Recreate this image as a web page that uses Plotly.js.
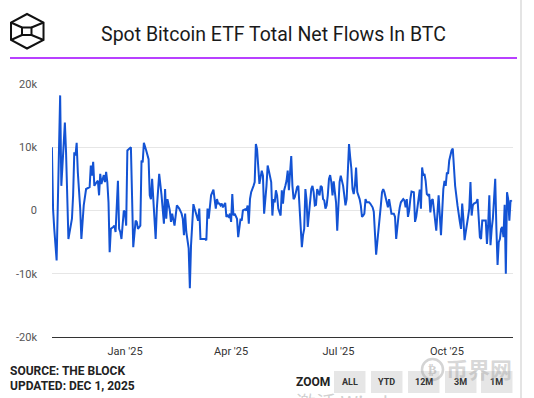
<!DOCTYPE html>
<html>
<head>
<meta charset="utf-8">
<script src="https://cdn.plot.ly/plotly-3.0.1.min.js"></script>
<style>
html,body{margin:0;padding:0;background:#fff;}
#chart{width:534px;height:398px;}
</style>
</head>
<body>
<div id="chart"></div>
<script>
// ---- data (BTC net flows) ----
const dates = [
"2024-10-31","2024-11-01","2024-11-02","2024-11-04","2024-11-07","2024-11-08","2024-11-11","2024-11-12","2024-11-14","2024-11-17",
"2024-11-18","2024-11-19","2024-11-20","2024-11-21","2024-11-22","2024-11-24","2024-11-25","2024-11-27","2024-11-29","2024-12-01",
"2024-12-02","2024-12-03","2024-12-04","2024-12-05","2024-12-06","2024-12-08","2024-12-09","2024-12-10","2024-12-11","2024-12-12",
"2024-12-14","2024-12-15","2024-12-16","2024-12-17","2024-12-18","2024-12-19","2024-12-20","2024-12-22","2024-12-23","2024-12-24",
"2024-12-26","2024-12-27","2024-12-28","2024-12-29","2024-12-31","2025-01-01","2025-01-02","2025-01-03","2025-01-04","2025-01-06",
"2025-01-08","2025-01-10","2025-01-11","2025-01-12","2025-01-14","2025-01-15","2025-01-16","2025-01-17","2025-01-19","2025-01-21",
"2025-01-22","2025-01-23","2025-01-24","2025-01-25","2025-01-27","2025-01-28","2025-01-29","2025-01-30","2025-02-01","2025-02-02",
"2025-02-03","2025-02-04","2025-02-05","2025-02-06","2025-02-08","2025-02-09","2025-02-10","2025-02-12","2025-02-13","2025-02-14",
"2025-02-16","2025-02-18","2025-02-19","2025-02-20","2025-02-21","2025-02-22","2025-02-24","2025-02-25","2025-02-26","2025-02-28",
"2025-03-01","2025-03-03","2025-03-04","2025-03-05","2025-03-06","2025-03-08","2025-03-10","2025-03-11","2025-03-12","2025-03-13",
"2025-03-14","2025-03-15","2025-03-17","2025-03-18","2025-03-19","2025-03-20","2025-03-21","2025-03-22","2025-03-23","2025-03-24",
"2025-03-25","2025-03-27","2025-03-28","2025-03-29","2025-03-30","2025-03-31","2025-04-01","2025-04-02","2025-04-03","2025-04-04",
"2025-04-05","2025-04-06","2025-04-07","2025-04-09","2025-04-10","2025-04-11","2025-04-13","2025-04-14","2025-04-15","2025-04-16",
"2025-04-17","2025-04-18","2025-04-20","2025-04-21","2025-04-22","2025-04-23","2025-04-25","2025-04-26","2025-04-27","2025-04-28",
"2025-04-29","2025-05-01","2025-05-02","2025-05-03","2025-05-04","2025-05-05","2025-05-06","2025-05-07","2025-05-08","2025-05-09",
"2025-05-10","2025-05-11","2025-05-13","2025-05-14","2025-05-15","2025-05-16","2025-05-17","2025-05-18","2025-05-19","2025-05-20",
"2025-05-21","2025-05-22","2025-05-23","2025-05-24","2025-05-25","2025-05-26","2025-05-27","2025-05-28","2025-05-29","2025-05-30",
"2025-05-31","2025-06-01","2025-06-02","2025-06-03","2025-06-04","2025-06-05","2025-06-06","2025-06-07","2025-06-08","2025-06-09",
"2025-06-10","2025-06-11","2025-06-12","2025-06-13","2025-06-14","2025-06-15","2025-06-16","2025-06-17","2025-06-18","2025-06-19",
"2025-06-20","2025-06-21","2025-06-22","2025-06-23","2025-06-24","2025-06-25","2025-06-26","2025-06-27","2025-06-28","2025-06-29",
"2025-06-30","2025-07-01","2025-07-02","2025-07-03","2025-07-05","2025-07-06","2025-07-07","2025-07-08","2025-07-09","2025-07-10",
"2025-07-11","2025-07-12","2025-07-13","2025-07-14","2025-07-15","2025-07-16","2025-07-17","2025-07-19","2025-07-20","2025-07-21",
"2025-07-22","2025-07-23","2025-07-24","2025-07-25","2025-07-26","2025-07-27","2025-07-28","2025-07-30","2025-07-31","2025-08-01",
"2025-08-02","2025-08-03","2025-08-04","2025-08-05","2025-08-06","2025-08-07","2025-08-08","2025-08-09","2025-08-10","2025-08-11",
"2025-08-12","2025-08-13","2025-08-14","2025-08-15","2025-08-17","2025-08-18","2025-08-19","2025-08-20","2025-08-21","2025-08-22",
"2025-08-23","2025-08-25","2025-08-26","2025-08-27","2025-08-28","2025-08-29","2025-08-30","2025-08-31","2025-09-01","2025-09-03",
"2025-09-04","2025-09-05","2025-09-06","2025-09-07","2025-09-08","2025-09-09","2025-09-10","2025-09-11","2025-09-12","2025-09-13",
"2025-09-14","2025-09-15","2025-09-16","2025-09-17","2025-09-18","2025-09-19","2025-09-20","2025-09-21","2025-09-22","2025-09-24",
"2025-09-25","2025-09-26","2025-09-27","2025-09-28","2025-09-29","2025-09-30","2025-10-01","2025-10-02","2025-10-03","2025-10-04",
"2025-10-05","2025-10-06","2025-10-07","2025-10-08","2025-10-10","2025-10-11","2025-10-12","2025-10-13","2025-10-14","2025-10-15",
"2025-10-16","2025-10-17","2025-10-18","2025-10-19","2025-10-20","2025-10-21","2025-10-22","2025-10-23","2025-10-24","2025-10-26",
"2025-10-27","2025-10-29","2025-10-30","2025-10-31","2025-11-01","2025-11-03","2025-11-04","2025-11-05","2025-11-06","2025-11-07",
"2025-11-08","2025-11-09","2025-11-10","2025-11-11","2025-11-12","2025-11-13","2025-11-14","2025-11-15","2025-11-16","2025-11-17",
"2025-11-18","2025-11-19","2025-11-20","2025-11-21","2025-11-22","2025-11-23","2025-11-24","2025-11-25"
];
const netFlowsBTC = [
10000,200,-2900,-7900,18200,3900,13900,9200,-4500,-1300,
2400,9200,8700,10700,6000,300,-4500,800,3400,3700,
3700,7100,5500,7700,3900,4500,4700,2400,5800,4200,
5600,4500,6100,4500,1300,-6600,-2900,-2600,-2400,-3400,
4700,-2900,-3400,-4500,0,-300,-2400,9500,9700,10000,
-5800,-1600,-1800,-2900,-2400,7900,7600,10700,9500,8100,
2400,1800,5000,1800,-4500,300,3700,5800,2400,300,
-2100,3400,-1300,1800,0,-1800,-500,-2400,-800,800,
300,-500,-1300,-3900,-500,-3400,-6000,-12300,-5500,1000,
300,-1000,-1600,300,-4500,-4500,-4500,-4700,300,-1300,
800,2400,3300,1800,300,1800,1100,1100,800,1100,
500,1200,-1000,-800,-1000,-500,-1800,2600,-800,-500,
-800,-1300,-4200,-1300,-1600,0,200,0,800,-2100,
1800,2900,3900,4500,10500,9700,4200,5000,6300,5500,
-500,3900,7100,6300,5500,4500,-800,1800,1300,3200,
2400,300,-800,3200,1100,3200,3900,4700,6300,3200,
6000,8600,3900,1800,2100,2900,3700,3900,800,-3900,
-5800,-3900,-2900,3400,1600,-2600,-300,2100,3400,3900,
2900,800,900,3400,2900,2400,3900,3700,1800,1600,
300,800,2400,5000,5600,4500,2400,4600,2900,1300,
-3200,2400,4500,5500,3900,2400,800,1800,6000,10500,
8400,6600,3400,2600,3900,6800,2900,1800,800,-1000,
-800,-500,1800,1300,1300,1300,1100,500,-200,-3900,
-7000,-5000,-3400,-1800,800,2900,3400,2900,2100,1100,
500,1800,300,-500,-500,-1000,-4500,-1800,-800,500,
1300,1800,1600,500,1800,-1000,0,1800,3000,2900,
-1800,-1000,800,2100,3300,300,6800,5500,5800,4700,
2600,2400,2600,-300,1600,1800,-300,-1800,-3200,2400,
-800,-3900,-300,3400,4700,3900,6000,5800,7900,8900,
9500,9800,6800,3900,800,-800,-1800,-2900,1100,-1300,
-4700,-3400,-1800,-1000,300,4500,-800,800,1100,1300,
1800,-4200,-4500,-1600,-1600,-1600,-5300,-2400,2400,-5500,
-2900,-1300,1800,5000,-2900,-8600,-5000,-4500,-2900,-2600,
-4200,900,-10000,2900,1800,-1600,1600,1400
];
const yTickVals = [-20000,-10000,0,10000,20000];
const yTickText = ["-20k","-10k","0","10k","20k"];
const xTickVals = ["2025-01-01","2025-04-01","2025-07-01","2025-10-01"];
const xTickText = ["Jan '25","Apr '25","Jul '25","Oct '25"];
const zoomButtons = ["ALL","YTD","12M","3M","1M"];

// ---- layout helpers (pixel -> paper) ----
const W=534,H=398,L=52,R=513,T=84,B=337;
const px = x => (x-L)/(R-L);
const py = y => (B-y)/(B-T);
function pathFrom(points){ return points.map((p,i)=>(i?'L':'M')+px(p[0]).toFixed(4)+','+py(p[1]).toFixed(4)).join(' '); }

const shapes = [];
// purple divider
shapes.push({type:'line',xref:'paper',yref:'paper',x0:px(10),x1:px(517),y0:py(58),y1:py(58),line:{color:'#a100ff',width:1.5}});
// right edge bar
shapes.push({type:'line',xref:'paper',yref:'paper',x0:px(521),x1:px(521),y0:py(0),y1:py(398),line:{color:'#e4e4e4',width:2}});
// logo (cube outline)
const hex=[[27,14],[43.5,22.5],[43.5,40],[27,48.5],[11,40],[11,22.5],[27,14]];
shapes.push({type:'path',xref:'paper',yref:'paper',path:pathFrom(hex)+' Z',line:{color:'#111',width:2}});
shapes.push({type:'path',xref:'paper',yref:'paper',path:pathFrom([[22,27.5],[31.5,27.5],[31.5,35],[22,35],[22,27.5]])+' Z',line:{color:'#111',width:2}});
[[[11,22.5],[22,27.5]],[[43.5,22.5],[31.5,27.5]],[[11,40],[22,35]],[[43.5,40],[31.5,35]]].forEach(s=>{
  shapes.push({type:'path',xref:'paper',yref:'paper',path:pathFrom(s),line:{color:'#111',width:2}});
});
// zoom buttons
const btnX=[334,371,408,445,481];
const annotations=[];
zoomButtons.forEach((b,i)=>{
  shapes.push({type:'rect',xref:'paper',yref:'paper',x0:px(btnX[i]),x1:px(btnX[i]+31.5),y0:py(371),y1:py(393),fillcolor:'#e6e6e6',line:{width:0}});
  annotations.push({xref:'paper',yref:'paper',x:px(btnX[i]+15.75),y:py(382),text:'<b>'+b+'</b>',showarrow:false,font:{family:'Roboto',size:9,color:'#333'},xanchor:'center',yanchor:'middle'});
});
annotations.push({xref:'paper',yref:'paper',x:px(294),y:py(382),text:'<b>ZOOM</b>',showarrow:false,font:{family:'Roboto',size:12,color:'#222'},xanchor:'left',yanchor:'middle'});
annotations.push({xref:'paper',yref:'paper',x:px(8),y:py(371),text:'<b>SOURCE: THE BLOCK</b>',showarrow:false,font:{family:'Roboto',size:12,color:'#222'},xanchor:'left',yanchor:'middle'});
annotations.push({xref:'paper',yref:'paper',x:px(8),y:py(385.5),text:'<b>UPDATED: DEC 1, 2025</b>',showarrow:false,font:{family:'Roboto',size:12,color:'#222'},xanchor:'left',yanchor:'middle'});
// watermarks (semi-transparent, as in the source picture)
shapes.push({type:'circle',xref:'paper',yref:'paper',x0:px(422),x1:px(443),y0:py(359),y1:py(380),line:{color:'rgba(160,160,160,0.45)',width:2.5}});
annotations.push({xref:'paper',yref:'paper',x:px(432.5),y:py(369.5),text:'<b>₿</b>',showarrow:false,font:{family:'DejaVu Sans',size:13,color:'rgba(160,160,160,0.5)'},xanchor:'center',yanchor:'middle'});
annotations.push({xref:'paper',yref:'paper',x:px(444),y:py(368),text:'<b>币界网</b>',showarrow:false,font:{family:'Noto Sans CJK SC',size:22,color:'rgba(160,160,160,0.42)'},xanchor:'left',yanchor:'middle'});
annotations.push({xref:'paper',yref:'paper',x:px(294),y:py(402),text:'激活 Windows',showarrow:false,font:{family:'Noto Sans CJK SC',size:20,color:'rgba(150,150,150,0.45)'},xanchor:'left',yanchor:'middle'});

const trace = {
  type:'scatter', mode:'lines', x:dates, y:netFlowsBTC,
  line:{color:'#1353d4',width:2}, hoverinfo:'skip'
};

const layout = {
  width:W, height:H,
  margin:{l:L,r:W-R,t:T,b:H-B,pad:0},
  paper_bgcolor:'#fff', plot_bgcolor:'#fff',
  showlegend:false,
  title:{text:'Spot Bitcoin ETF Total Net Flows In BTC',font:{family:'Roboto',size:19.5,color:'#1a1a1a'},xref:'container',yref:'container',x:273.5/W,y:1-34/H,xanchor:'center',yanchor:'middle'},
  xaxis:{type:'date',range:['2024-10-31 02:00','2025-11-26 02:00'],tickvals:xTickVals,ticktext:xTickText,
    showgrid:false,zeroline:false,showline:true,linecolor:'#333',linewidth:1,ticks:'',
    tickfont:{family:'Roboto',size:11,color:'#333'},ticklabelstandoff:4,fixedrange:true},
  yaxis:{range:[-20000,20000],tickvals:yTickVals,ticktext:yTickText,showgrid:true,gridcolor:'#e6e6e6',gridwidth:1,
    zeroline:false,showline:false,ticks:'',tickfont:{family:'Roboto',size:11,color:'#555'},ticklabelstandoff:14,fixedrange:true},
  shapes:shapes, annotations:annotations
};

Plotly.newPlot('chart',[trace],layout,{displayModeBar:false,staticPlot:true});
</script>
</body>
</html>
